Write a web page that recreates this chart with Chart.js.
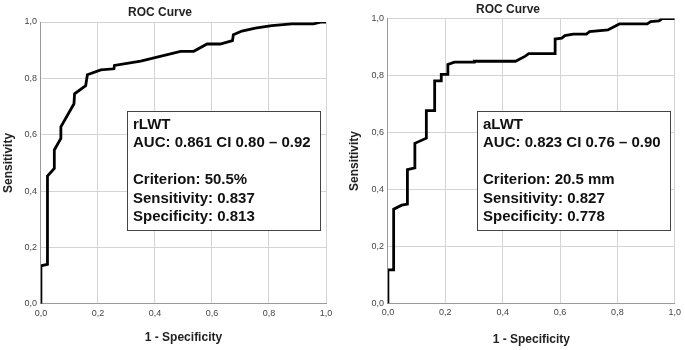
<!DOCTYPE html>
<html>
<head>
<meta charset="utf-8">
<script src="https://cdn.jsdelivr.net/npm/chart.js@4.4.0/dist/chart.umd.min.js"></script>
<style>
  html, body { margin: 0; padding: 0; background: #fff; }
  #wrap { position: relative; width: 685px; height: 350px; }
  canvas { position: absolute; top: 0; }
  #left { left: 0; }
  #right { left: 345px; }
</style>
</head>
<body>
<div id="wrap">
  <canvas id="left" width="345" height="350"></canvas>
  <canvas id="right" width="340" height="350"></canvas>
</div>
<script>
// rLWT curve (1 - specificity, sensitivity)
const rlwtFpr = [0, 0, 0.023, 0.023, 0.047, 0.047, 0.07, 0.07, 0.116, 0.118, 0.157, 0.163, 0.21, 0.256, 0.258, 0.35, 0.49, 0.536, 0.583, 0.629, 0.672, 0.675, 0.705, 0.752, 0.81, 0.88, 0.956, 0.985, 1];
const rlwtTpr = [0, 0.135, 0.14, 0.453, 0.48, 0.546, 0.587, 0.628, 0.71, 0.745, 0.774, 0.813, 0.83, 0.834, 0.846, 0.861, 0.896, 0.896, 0.922, 0.922, 0.934, 0.955, 0.968, 0.978, 0.987, 0.993, 0.993, 1, 1];

// aLWT curve
const alwtFpr = [0, 0, 0.02, 0.02, 0.048, 0.068, 0.068, 0.094, 0.094, 0.134, 0.134, 0.163, 0.163, 0.186, 0.186, 0.209, 0.209, 0.232, 0.301, 0.301, 0.445, 0.479, 0.491, 0.583, 0.583, 0.606, 0.617, 0.646, 0.692, 0.703, 0.767, 0.79, 0.807, 0.904, 0.916, 0.945, 0.956, 1];
const alwtTpr = [0, 0.118, 0.118, 0.331, 0.345, 0.349, 0.47, 0.476, 0.562, 0.58, 0.677, 0.677, 0.781, 0.781, 0.804, 0.804, 0.839, 0.847, 0.847, 0.85, 0.85, 0.868, 0.877, 0.877, 0.928, 0.931, 0.94, 0.945, 0.945, 0.954, 0.96, 0.972, 0.981, 0.981, 0.989, 0.992, 1, 1];

const tickLabels = ['0,0', '0,2', '0,4', '0,6', '0,8', '1,0'];

const rlwtText = ['rLWT', 'AUC: 0.861 CI 0.80 \u2013 0.92', '', 'Criterion: 50.5%', 'Sensitivity: 0.837', 'Specificity: 0.813'];
const alwtText = ['aLWT', 'AUC: 0.823 CI 0.76 \u2013 0.90', '', 'Criterion: 20.5 mm', 'Sensitivity: 0.827', 'Specificity: 0.778'];

const FONT = "'Liberation Sans', Arial, sans-serif";

// draws the "ROC Curve" heading and the info box
const rocExtras = {
    id: 'rocExtras',
    afterDraw(chart, args, opts) {
        const ctx = chart.ctx;
        ctx.save();
        ctx.fillStyle = '#222';
        ctx.font = 'bold 12px ' + FONT;
        ctx.textAlign = 'center';
        ctx.textBaseline = 'middle';
        ctx.fillText('ROC Curve', opts.titleX, opts.titleY);

        const b = opts.box;
        ctx.fillStyle = '#fff';
        ctx.fillRect(b.x, b.y, b.w, b.h);
        ctx.strokeStyle = '#444';
        ctx.lineWidth = 1;
        ctx.strokeRect(b.x + 0.5, b.y + 0.5, b.w, b.h);
        ctx.fillStyle = '#111';
        ctx.font = 'bold 15px ' + FONT;
        ctx.textAlign = 'left';
        opts.lines.forEach((t, i) => {
            ctx.fillText(t, b.x + 6, b.y + 13.5 + i * 18.5);
        });
        ctx.restore();
    }
};

function makePoints(xs, ys) {
    return xs.map((x, i) => ({x: x, y: ys[i]}));
}

function makeAxis(title, titlePad) {
    return {
        type: 'linear',
        min: 0,
        max: 1,
        border: {display: true, color: '#9a9a9a', width: 1},
        grid: {color: '#d4d4d4', drawTicks: false, lineWidth: 1},
        ticks: {
            stepSize: 0.2,
            padding: 4,
            color: '#444',
            font: {family: FONT, size: 9},
            callback: (v) => tickLabels[Math.round(v * 5)]
        },
        title: {
            display: true,
            text: title,
            color: '#222',
            font: {family: FONT, size: 12, weight: 'bold'},
            padding: titlePad
        }
    };
}

function createRocChart(id, xs, ys, pad, xPad, yPad, extras) {
    new Chart(document.getElementById(id), {
        type: 'scatter',
        data: {
            datasets: [{
                data: makePoints(xs, ys),
                showLine: true,
                borderColor: '#000',
                borderWidth: 2.8,
                pointRadius: 0,
                tension: 0,
                fill: false
            }]
        },
        options: {
            responsive: false,
            animation: false,
            events: [],
            layout: {padding: pad},
            scales: {
                x: makeAxis('1 - Specificity', xPad),
                y: makeAxis('Sensitivity', yPad)
            },
            plugins: {
                legend: {display: false},
                tooltip: {enabled: false},
                rocExtras: extras
            }
        },
        plugins: [rocExtras]
    });
}

createRocChart('left', rlwtFpr, rlwtTpr,
    {left: 1, top: 22, right: 19, bottom: 1},
    {top: 8, bottom: 4}, {top: 0, bottom: 5},
    {titleX: 160, titleY: 12.7, box: {x: 127, y: 111, w: 193, h: 119}, lines: rlwtText});

createRocChart('right', alwtFpr, alwtTpr,
    {left: 2, top: 18.5, right: 9, bottom: 0},
    {top: 10.5, bottom: 2.8}, {top: 0, bottom: 6},
    {titleX: 163, titleY: 9.3, box: {x: 132, y: 111, w: 193, h: 119}, lines: alwtText});
</script>
</body>
</html>
